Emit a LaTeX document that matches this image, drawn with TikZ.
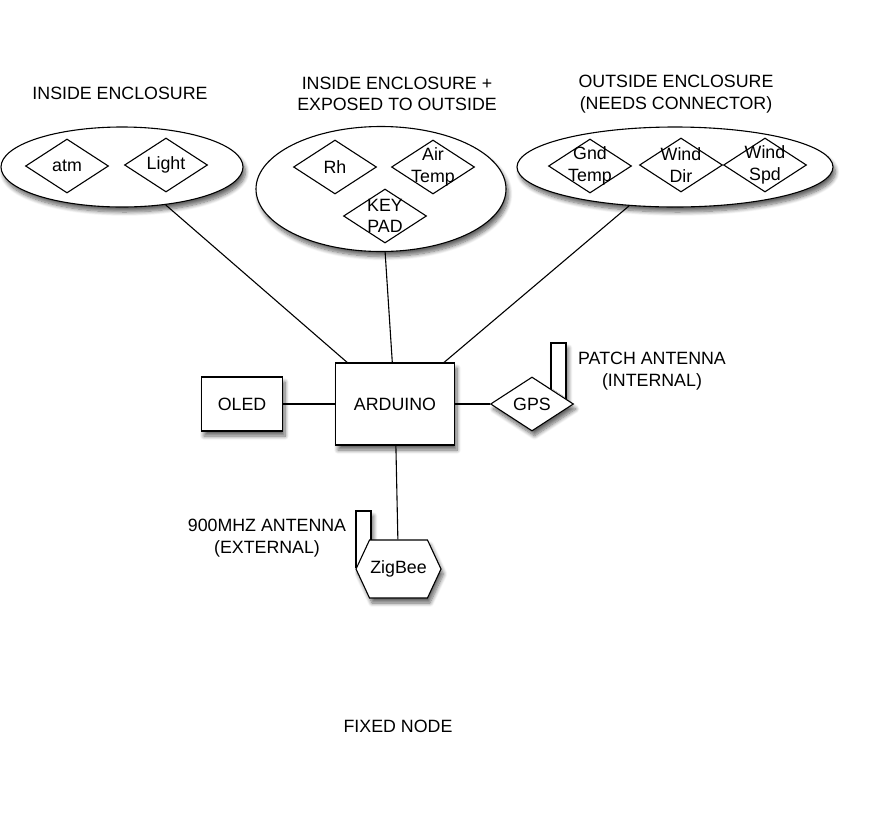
\documentclass[tikz,border=0pt]{standalone}
\usepackage{fontspec}
\setmainfont{Liberation Sans}
\usepackage{tikz}
\usetikzlibrary{shapes.geometric,shapes.symbols,shadows.blur}

\begin{document}
\begin{tikzpicture}[x=1pt,y=1pt,yscale=-1,line width=1.1pt,
  dropsh/.style={blur shadow={shadow xshift=2.5pt,shadow yshift=-5pt,shadow blur steps=8,shadow blur radius=4pt,shadow opacity=60}},
  encl/.style={ellipse,draw,fill=white,inner sep=0pt,dropsh},
  sensor/.style={diamond,draw,fill=white,inner sep=0pt,minimum width=83pt,minimum height=54pt},
  board/.style={rectangle,draw,fill=white,inner sep=0pt,dropsh},
  antbox/.style={rectangle,draw,fill=white,inner sep=0pt,minimum width=15pt,minimum height=56pt,dropsh},
  caption/.style={align=center,font=\fontsize{17.8}{21.5}\selectfont}
]
\useasboundingbox (0,0) rectangle (883,812);

%Shape: Ellipse [inside enclosure]
\node[encl,minimum width=242pt,minimum height=80pt] (inside) at (122,167) {};
\node[sensor,label={[caption]center:atm}] (atm) at (67,166) {};
\node[sensor,label={[caption]center:Light}] (light) at (166,165) {};

%Shape: Ellipse [inside + exposed]
\node[encl,minimum width=250pt,minimum height=125pt] (exposed) at (381,189) {};
\node[sensor,label={[caption]center:Rh}] (rh) at (335,167) {};
\node[sensor,label={[caption]center:Air\\Temp}] (airtemp) at (433,167) {};
\node[sensor,label={[caption]center:KEY\\PAD}] (keypad) at (385,216) {};

%Shape: Ellipse [outside enclosure]
\node[encl,minimum width=316pt,minimum height=80pt] (outside) at (675,167) {};
\node[sensor,label={[caption]center:Gnd\\Temp}] (gndtemp) at (590,166) {};
\node[sensor,label={[caption]center:Wind\\Dir}] (winddir) at (681,165) {};
\node[sensor,label={[caption]center:Wind\\Spd}] (windspd) at (765,165) {};

%Shape: Rectangle [boards]
\node[board,minimum width=81pt,minimum height=54pt,caption] (oled) at (242,404) {OLED};
\node[board,minimum width=119pt,minimum height=82pt,caption] (arduino) at (395,404) {ARDUINO};

%Shape: Antenna + Diamond
\node[antbox] (patch) at (558.5,371) {};
\node[sensor,dropsh,caption] (gps) at (532,404) {GPS};

%Shape: Antenna + Hexagon
\node[antbox] (whip) at (363.5,539) {};
\node[signal,signal to=east and west,signal pointer angle=130,draw,fill=white,inner sep=0pt,
  minimum width=85pt,minimum height=58pt,dropsh,caption] (zigbee) at (398.5,569) {ZigBee};

%Straight Lines
\draw (inside) -- (arduino);
\draw (exposed) -- (arduino);
\draw (outside) -- (arduino);
\draw (oled) -- (arduino);
\draw (arduino) -- (gps);
\draw (arduino) -- (zigbee);

% Text Node
\node[caption] (lblinside) at (120,93) {INSIDE ENCLOSURE};
\node[caption] (lblexposed) at (397,94) {INSIDE ENCLOSURE +\\EXPOSED TO OUTSIDE};
\node[caption] (lbloutside) at (676,94) {OUTSIDE ENCLOSURE\\(NEEDS CONNECTOR)};
\node[caption] (lblpatch) at (652,371) {PATCH ANTENNA\\(INTERNAL)};
\node[caption] (lblwhip) at (267,538) {900MHZ ANTENNA\\(EXTERNAL)};
\node[caption] (lblfixed) at (398,726) {FIXED NODE};

\end{tikzpicture}
\end{document}
